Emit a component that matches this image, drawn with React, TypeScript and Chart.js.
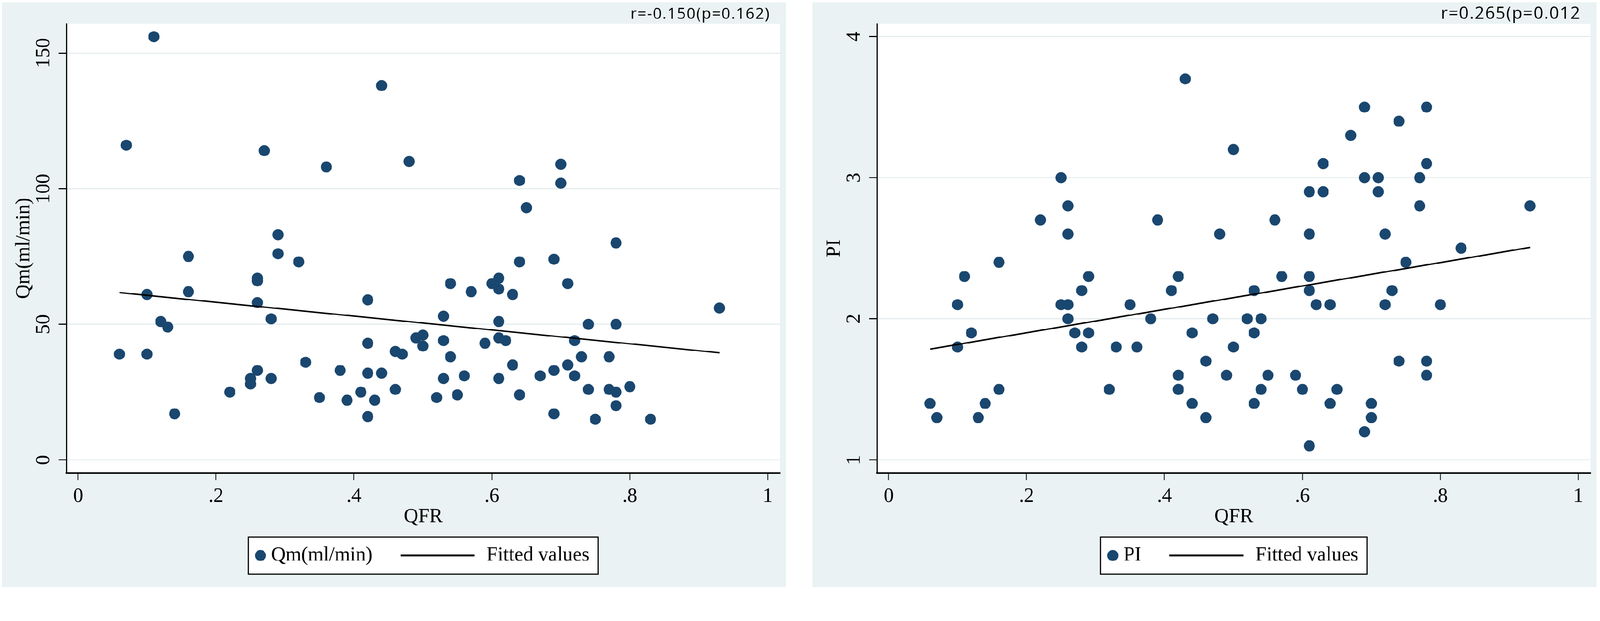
import { useEffect, useRef } from "react"
import { Chart, registerables } from "chart.js"

Chart.register(...registerables)

// QFR of every case, shared by both panels
const qfr = [
  0.06, 0.07, 0.1, 0.1, 0.11, 0.12, 0.13, 0.14, 0.16, 0.16,
  0.22, 0.25, 0.25, 0.26, 0.26, 0.26, 0.26, 0.27, 0.28, 0.28, 0.29, 0.29,
  0.32, 0.33, 0.35, 0.36, 0.38, 0.39, 0.41,
  0.42, 0.42, 0.42, 0.42, 0.43, 0.44, 0.44, 0.46, 0.46, 0.47, 0.48, 0.49, 0.5, 0.5,
  0.52, 0.53, 0.53, 0.53, 0.54, 0.54, 0.55, 0.56, 0.57, 0.59, 0.6,
  0.61, 0.61, 0.61, 0.61, 0.61, 0.62, 0.63, 0.63, 0.64, 0.64, 0.64, 0.65, 0.67,
  0.69, 0.69, 0.69, 0.7, 0.7, 0.71, 0.71, 0.72, 0.72, 0.73, 0.74, 0.74, 0.75,
  0.77, 0.77, 0.78, 0.78, 0.78, 0.78, 0.8, 0.83, 0.93,
]

const qm = [
  39, 116, 61, 39, 156, 51, 49, 17, 75, 62,
  25, 30, 28, 67, 66, 58, 33, 114, 52, 30, 83, 76,
  73, 36, 23, 108, 33, 22, 25,
  59, 43, 32, 16, 22, 138, 32, 40, 26, 39, 110, 45, 46, 42,
  23, 53, 44, 30, 65, 38, 24, 31, 62, 43, 65,
  67, 63, 51, 45, 30, 44, 61, 35, 103, 73, 24, 93, 31,
  74, 33, 17, 109, 102, 65, 35, 44, 31, 38, 50, 26, 15,
  38, 26, 80, 50, 25, 20, 27, 15, 56,
]

const pi = [
  1.4, 1.3, 2.1, 1.8, 2.3, 1.9, 1.3, 1.4, 2.4, 1.5,
  2.7, 3.0, 2.1, 2.8, 2.6, 2.1, 2.0, 1.9, 2.2, 1.8, 2.3, 1.9,
  1.5, 1.8, 2.1, 1.8, 2.0, 2.7, 2.2,
  2.3, 1.6, 1.5, 1.5, 3.7, 1.9, 1.4, 1.7, 1.3, 2.0, 2.6, 1.6, 3.2, 1.8,
  2.0, 2.2, 1.9, 1.4, 2.0, 1.5, 1.6, 2.7, 2.3, 1.6, 1.5,
  2.9, 2.6, 2.3, 2.2, 1.1, 2.1, 3.1, 2.9, 2.1, 2.1, 1.4, 1.5, 3.3,
  3.5, 3.0, 1.2, 1.4, 1.3, 3.0, 2.9, 2.6, 2.1, 2.2, 3.4, 1.7, 2.4,
  3.0, 2.8, 3.5, 3.1, 1.7, 1.6, 2.1, 2.5, 2.8,
]

// fitted line end points (at min and max QFR)
const fitX = [0.06, 0.93]
const fitQm = [61.7, 39.5]
const fitPi = [1.785, 2.506]

const xTicks = [0, 0.2, 0.4, 0.6, 0.8, 1]
const xTickLabels = ["0", ".2", ".4", ".6", ".8", "1"]
const qmTicks = [0, 50, 100, 150]
const piTicks = [1, 2, 3, 4]

const BG = "#eaf2f3"
const GRID = "#e3ecee"
const NAVY = "#1a476f"
const SERIF = "'Liberation Serif', 'Times New Roman', serif"
const SANS = "'Open Sans', 'Noto Sans', sans-serif"
const FONT_SIZE = 54
const PAGE_W = 4317
const PAGE_H = 1591
const W = 2116
const H = 1579

interface PanelProps {
  values: number[]
  fitted: number[]
  yTicks: number[]
  yMin: number
  yMax: number
  yTitle: string
  label: string
  note: string
  noteSize: number
  left: number
}

function ScatterPanel({ values, fitted, yTicks, yMin, yMax, yTitle, label, note, noteSize, left }: PanelProps) {
  const chartRef = useRef<HTMLCanvasElement>(null)
  const chartInstance = useRef<Chart | null>(null)

  useEffect(() => {
    if (!chartRef.current) return
    if (chartInstance.current) chartInstance.current.destroy()

    // Stata-like frame: grey graph region, white plot region, note, rotated y labels and boxed legend
    const frame = {
      id: "stataFrame",
      beforeDraw(chart: any) {
        const { ctx, chartArea: a } = chart
        ctx.save()
        ctx.fillStyle = BG
        ctx.fillRect(0, 0, chart.width, chart.height)
        ctx.fillStyle = "#fff"
        ctx.fillRect(a.left, a.top, a.right - a.left, a.bottom - a.top)
        ctx.restore()
      },
      afterDraw(chart: any) {
        const { ctx, chartArea: a, scales } = chart
        ctx.save()

        ctx.fillStyle = "#000"
        ctx.font = `${FONT_SIZE}px ${SERIF}`
        ctx.textAlign = "center"
        ctx.textBaseline = "middle"
        yTicks.forEach((v) => {
          ctx.save()
          ctx.translate(114, scales.y.getPixelForValue(v))
          ctx.rotate(-Math.PI / 2)
          ctx.fillText(String(v), 0, 0)
          ctx.restore()
        })

        ctx.font = `${noteSize}px ${SANS}`
        ctx.letterSpacing = "2px"
        ctx.textAlign = "right"
        ctx.textBaseline = "alphabetic"
        ctx.fillText(note, a.right - 27, 45)
        ctx.letterSpacing = "0px"

        // legend
        const sets = chart.data.datasets
        ctx.font = `${FONT_SIZE}px ${SERIF}`
        const w1 = ctx.measureText(sets[0].label).width
        const w2 = ctx.measureText(sets[1].label).width
        const mark = 30
        const boxW = 18 + mark + 14 + w1 + 76 + 200 + 32 + w2 + 24
        const bx = (a.left + a.right) / 2 - boxW / 2
        const by = 1444
        const bh = 100
        const my = by + bh / 2
        ctx.fillStyle = "#fff"
        ctx.fillRect(bx, by, boxW, bh)
        ctx.strokeStyle = "#000"
        ctx.lineWidth = 3
        ctx.strokeRect(bx, by, boxW, bh)

        let x = bx + 18
        ctx.fillStyle = sets[0].backgroundColor
        ctx.beginPath()
        ctx.arc(x + mark / 2, my, mark / 2, 0, Math.PI * 2)
        ctx.fill()
        x += mark + 14
        ctx.fillStyle = "#000"
        ctx.textAlign = "left"
        ctx.textBaseline = "middle"
        ctx.fillText(sets[0].label, x, my)
        x += w1 + 76
        ctx.strokeStyle = sets[1].borderColor
        ctx.lineWidth = 5
        ctx.beginPath()
        ctx.moveTo(x, my)
        ctx.lineTo(x + 200, my)
        ctx.stroke()
        x += 200 + 32
        ctx.fillText(sets[1].label, x, my)

        ctx.restore()
      },
    }

    chartInstance.current = new Chart(chartRef.current, {
      type: "scatter",
      data: {
        datasets: [
          {
            label,
            data: qfr.map((q, i) => ({ x: q, y: values[i] })),
            backgroundColor: NAVY,
            borderWidth: 0,
            pointRadius: 15,
            order: 1,
          },
          {
            label: "Fitted values",
            data: fitX.map((q, i) => ({ x: q, y: fitted[i] })),
            showLine: true,
            borderColor: "#000",
            borderWidth: 4,
            pointRadius: 0,
            order: 0,
          },
        ],
      },
      options: {
        animation: false,
        responsive: false,
        devicePixelRatio: 1,
        layout: { padding: { top: 58, right: 16, left: 0, bottom: 0 } },
        plugins: {
          legend: { display: false },
          tooltip: { enabled: false },
        },
        scales: {
          x: {
            type: "linear",
            min: -0.017,
            max: 1.018,
            afterBuildTicks: (s: any) => {
              s.ticks = xTicks.map((v) => ({ value: v }))
            },
            afterFit: (s: any) => {
              s.height = H - 1271
            },
            grid: { drawOnChartArea: false, drawTicks: true, tickLength: 19, tickColor: "#000", tickWidth: 2 },
            border: { display: true, color: "#000", width: 4 },
            ticks: {
              autoSkip: false,
              maxRotation: 0,
              padding: 12,
              color: "#000",
              font: { family: SERIF, size: FONT_SIZE },
              callback: (_v: any, i: number) => xTickLabels[i],
            },
            title: {
              display: true,
              text: "QFR",
              color: "#000",
              font: { family: SERIF, size: FONT_SIZE },
              padding: { top: 0, bottom: 157 },
            },
          },
          y: {
            type: "linear",
            min: yMin,
            max: yMax,
            afterBuildTicks: (s: any) => {
              s.ticks = yTicks.map((v) => ({ value: v }))
            },
            afterFit: (s: any) => {
              s.width = 174
            },
            grid: { color: GRID, lineWidth: 3, drawTicks: true, tickLength: 21, tickColor: "#000", tickWidth: 3 },
            border: { display: true, color: "#000", width: 3 },
            ticks: { display: false },
            title: {
              display: true,
              text: yTitle,
              color: "#000",
              font: { family: SERIF, size: FONT_SIZE },
              padding: { top: 27, bottom: 0 },
            },
          },
        },
      },
      plugins: [frame],
    } as any)

    return () => {
      if (chartInstance.current) {
        chartInstance.current.destroy()
        chartInstance.current = null
      }
    }
  }, [values, fitted, yTicks, yMin, yMax, yTitle, label, note, noteSize])

  return (
    <canvas
      ref={chartRef}
      width={W}
      height={H}
      style={{ position: "absolute", left, top: 6, width: W, height: H }}
    />
  )
}

export default function App() {
  // fit the 4317x1591 layout into whatever CSS viewport the page gets
  const k = Math.min(window.innerWidth / PAGE_W, window.innerHeight / PAGE_H)

  return (
    <div style={{ position: "fixed", inset: 0, background: "#fff", overflow: "hidden" }}>
      <div
        style={{
          position: "absolute",
          left: 0,
          top: 0,
          width: PAGE_W,
          height: PAGE_H,
          transform: `scale(${k})`,
          transformOrigin: "0 0",
        }}
      >
        <ScatterPanel
          values={qm}
          fitted={fitQm}
          yTicks={qmTicks}
          yMin={-4.78}
          yMax={160.8}
          yTitle="Qm(ml/min)"
          label="Qm(ml/min)"
          note="r=-0.150(p=0.162)"
          noteSize={42}
          left={5}
        />
        <ScatterPanel
          values={pi}
          fitted={fitPi}
          yTicks={piTicks}
          yMin={0.908}
          yMax={4.091}
          yTitle="PI"
          label="PI"
          note="r=0.265(p=0.012"
          noteSize={46}
          left={2192}
        />
      </div>
    </div>
  )
}
